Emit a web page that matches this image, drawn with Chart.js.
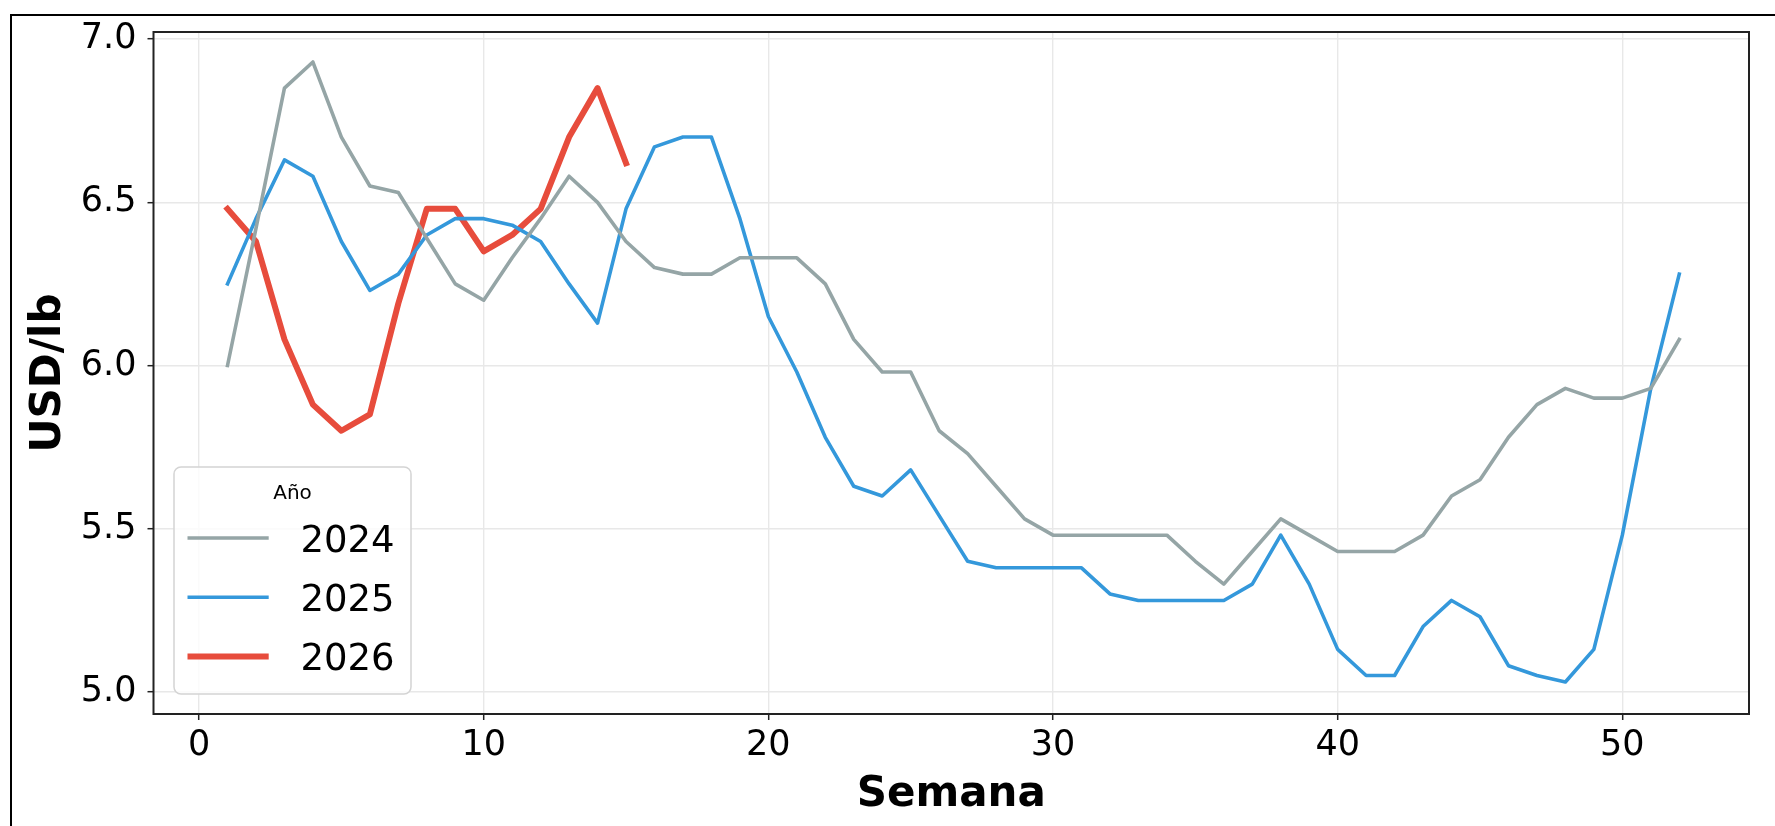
<!DOCTYPE html>
<html>
<head>
<meta charset="utf-8">
<script src="https://cdn.jsdelivr.net/npm/chart.js@4.4.1/dist/chart.umd.min.js"></script>
<style>
  html, body { margin: 0; padding: 0; background: #fff; }
  #wrap { width: 1775px; height: 826px; }
</style>
</head>
<body>
<div id="wrap"><canvas id="myChart" width="1775" height="826"></canvas></div>
<script>
// semanas y precios (USD/lb)
const weeks = [1,2,3,4,5,6,7,8,9,10,11,12,13,14,15,16,17,18,19,20,21,22,23,24,25,26,
               27,28,29,30,31,32,33,34,35,36,37,38,39,40,41,42,43,44,45,46,47,48,49,50,51,52];
const weeks2026 = [1,2,3,4,5,6,7,8,9,10,11,12,13,14,15];

const prices2024 = [6.00,6.42,6.85,6.93,6.70,6.55,6.53,6.39,6.25,6.20,6.33,6.45,6.58,6.50,6.38,6.30,
                    6.28,6.28,6.33,6.33,6.33,6.25,6.08,5.98,5.98,5.80,5.73,5.63,5.53,5.48,5.48,5.48,
                    5.48,5.48,5.40,5.33,5.43,5.53,5.48,5.43,5.43,5.43,5.48,5.60,5.65,5.78,5.88,5.93,
                    5.90,5.90,5.93,6.08];
const prices2025 = [6.25,6.45,6.63,6.58,6.38,6.23,6.28,6.40,6.45,6.45,6.43,6.38,6.25,6.13,6.48,6.67,
                    6.70,6.70,6.45,6.15,5.98,5.78,5.63,5.60,5.68,5.54,5.40,5.38,5.38,5.38,5.38,5.30,
                    5.28,5.28,5.28,5.28,5.33,5.48,5.33,5.13,5.05,5.05,5.20,5.28,5.23,5.08,5.05,5.03,
                    5.13,5.48,5.93,6.28];
const prices2026 = [6.48,6.38,6.08,5.88,5.80,5.85,6.19,6.48,6.48,6.35,6.40,6.48,6.70,6.85,6.62];

const seriesNames = ['2024','2025','2026'];
const legendTitle = 'Año';
const xTicks = [0,10,20,30,40,50];
const yTicks = [5.0,5.5,6.0,6.5,7.0];

const toPoints = (xs, ys) => xs.map((x, i) => ({x: x, y: ys[i]}));

const FONT = "'DejaVu Sans', sans-serif";

// marco de la figura, marco del eje y leyenda
const framePlugin = {
  id: 'framePlugin',
  afterDraw(chart) {
    const ctx = chart.ctx;
    const a = chart.chartArea;
    ctx.save();
    // borde exterior de la figura
    ctx.strokeStyle = '#000';
    ctx.lineWidth = 2;
    ctx.beginPath();
    ctx.moveTo(11, 900);
    ctx.lineTo(11, 15);
    ctx.lineTo(1800, 15);
    ctx.stroke();
    // spines
    ctx.strokeStyle = '#222';
    ctx.lineWidth = 2;
    ctx.strokeRect(a.left, a.top, a.right - a.left, a.bottom - a.top);

    // leyenda
    const x0 = 174, y0 = 467, w = 237, h = 227, r = 7;
    ctx.beginPath();
    ctx.roundRect(x0, y0, w, h, r);
    ctx.fillStyle = 'rgba(255,255,255,0.8)';
    ctx.fill();
    ctx.strokeStyle = '#d4d4d4';
    ctx.lineWidth = 1.5;
    ctx.stroke();

    ctx.fillStyle = '#000';
    ctx.font = '20px ' + FONT;
    ctx.textAlign = 'center';
    ctx.textBaseline = 'alphabetic';
    ctx.fillText(legendTitle, x0 + w / 2, 499);

    ctx.textAlign = 'left';
    ctx.font = '37px ' + FONT;
    chart.data.datasets.forEach((ds, i) => {
      const ly = 538 + i * 59.3;
      ctx.strokeStyle = ds.borderColor;
      ctx.lineWidth = ds.borderWidth;
      ctx.lineCap = 'butt';
      ctx.beginPath();
      ctx.moveTo(187.5, ly);
      ctx.lineTo(268.7, ly);
      ctx.stroke();
      ctx.fillStyle = '#000';
      ctx.fillText(ds.label, 300.4, ly + 13.5);
    });
    ctx.restore();
  }
};

const ctx = document.getElementById('myChart');
const myChart = new Chart(ctx, {
  type: 'line',
  data: {
    datasets: [
      {
        label: seriesNames[0],
        data: toPoints(weeks, prices2024),
        borderColor: '#95a5a6',
        borderWidth: 3.6,
      },
      {
        label: seriesNames[1],
        data: toPoints(weeks, prices2025),
        borderColor: '#3498db',
        borderWidth: 3.6,
      },
      {
        label: seriesNames[2],
        data: toPoints(weeks2026, prices2026),
        borderColor: '#e74c3c',
        borderWidth: 6,
      }
    ]
  },
  options: {
    responsive: false,
    animation: false,
    devicePixelRatio: 1,
    elements: {
      point: { radius: 0 },
      line: { tension: 0, borderJoinStyle: 'round', borderCapStyle: 'square', fill: false }
    },
    layout: { padding: { top: 31, right: 26, left: 0, bottom: 0 } },
    plugins: {
      legend: { display: false },
      tooltip: { enabled: false }
    },
    scales: {
      x: {
        type: 'linear',
        min: -1.6,
        max: 54.45,
        afterBuildTicks: (scale) => { scale.ticks = xTicks.map(v => ({value: v})); },
        afterFit: (scale) => { scale.height = 112; },
        grid: { color: '#e8e8e8', lineWidth: 1.4, drawTicks: true, tickLength: 6, tickColor: '#222', tickWidth: 1.5 },
        border: { display: false },
        ticks: { color: '#000', font: { family: FONT, size: 35 }, padding: 5, maxRotation: 0 },
        title: { display: true, text: 'Semana', color: '#000',
                 font: { family: FONT, size: 42, weight: 'bold' }, padding: { top: 0, bottom: 6 } }
      },
      y: {
        min: 4.932,
        max: 7.022,
        afterBuildTicks: (scale) => { scale.ticks = yTicks.map(v => ({value: v})); },
        afterFit: (scale) => { scale.width = 153.5; },
        grid: { color: '#e8e8e8', lineWidth: 1.4, drawTicks: true, tickLength: 6, tickColor: '#222', tickWidth: 1.5 },
        border: { display: false },
        ticks: { color: '#000', font: { family: FONT, size: 35 }, padding: 11,
                 callback: (v) => v.toFixed(1) },
        title: { display: true, text: 'USD/lb', color: '#000',
                 font: { family: FONT, size: 42, weight: 'bold' }, padding: { top: 24, bottom: 0 } }
      }
    }
  },
  plugins: [framePlugin]
});
</script>
</body>
</html>
